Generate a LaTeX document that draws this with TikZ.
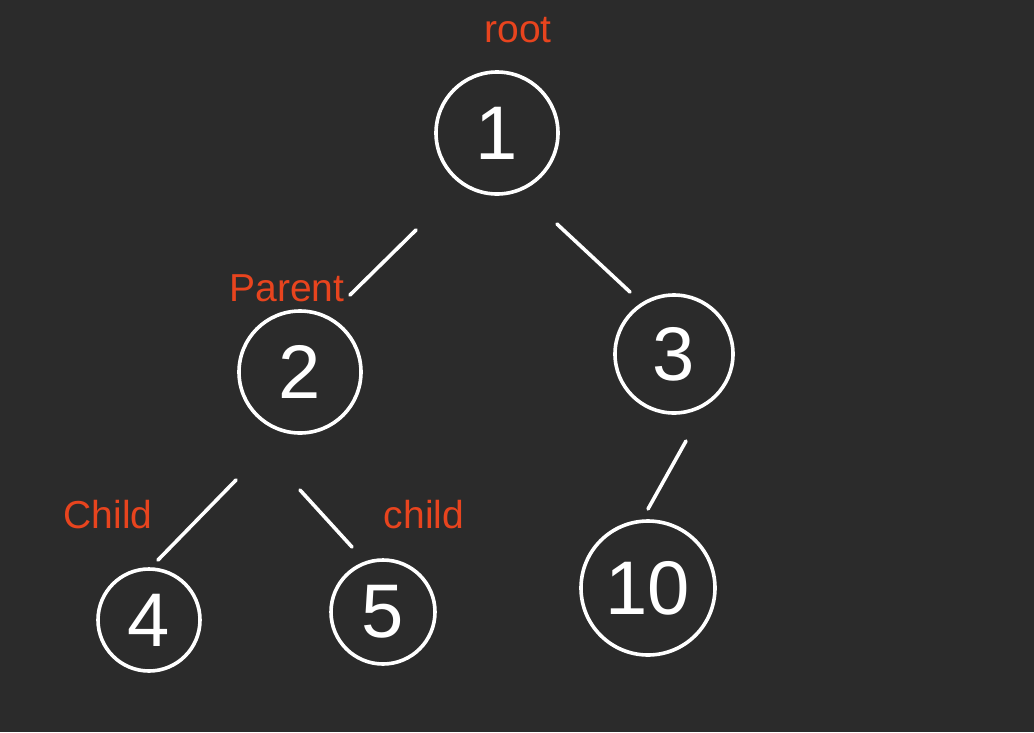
\documentclass[tikz,border=0pt]{standalone}
\usepackage{fontspec}
\newfontfamily\handfont{Liberation Sans}
\usetikzlibrary{calc}
\definecolor{bgc}{HTML}{2B2B2B}
\definecolor{redlab}{HTML}{E8441E}
\tikzset{
  treenode/.style={circle, draw=white, line width=3.6pt, inner sep=0pt, text=white,
    font=\handfont\fontsize{76}{76}\selectfont},
  edge/.style={draw=white, line width=3.6pt, line cap=round},
  lab/.style={text=redlab, font=\handfont\fontsize{39}{39}\selectfont, inner sep=0pt}
}
\begin{document}
\begin{tikzpicture}[x=1pt,y=-1pt]
\fill[bgc] (0,0) rectangle (1034,732);
\useasboundingbox (0,0) rectangle (1034,732);
\node[treenode, minimum size=122pt] (n1) at (497,133) {1};
\node[treenode, minimum size=122pt] (n2) at (300,372) {2};
\node[treenode, minimum size=118pt] (n3) at (674,354) {3};
\node[treenode, minimum size=102pt] (n4) at (149,620) {4};
\node[treenode, minimum size=104pt] (n5) at (383,612) {5};
\node[treenode, minimum size=134pt] (n10) at (648,588) {10};
\node[lab] (lroot) at (518,30) {root};
\node[lab] (lparent) at (287,288) {Parent};
\node[lab] (lchild1) at (108,515) {Child};
\node[lab] (lchild2) at (424,515) {child};
\draw[edge] ($(n1)+(-81,97)$) -- ($(n2)+(50,-77)$);
\draw[edge] ($(n1)+(60,91)$) -- ($(n3)+(-44,-62)$);
\draw[edge] ($(n2)+(-64,108)$) -- ($(n4)+(9,-60)$);
\draw[edge] ($(n2)+(0,118)$) -- ($(n5)+(-31,-65)$);
\draw[edge] ($(n3)+(12,87)$) -- ($(n10)+(0,-79)$);
\end{tikzpicture}
\end{document}
